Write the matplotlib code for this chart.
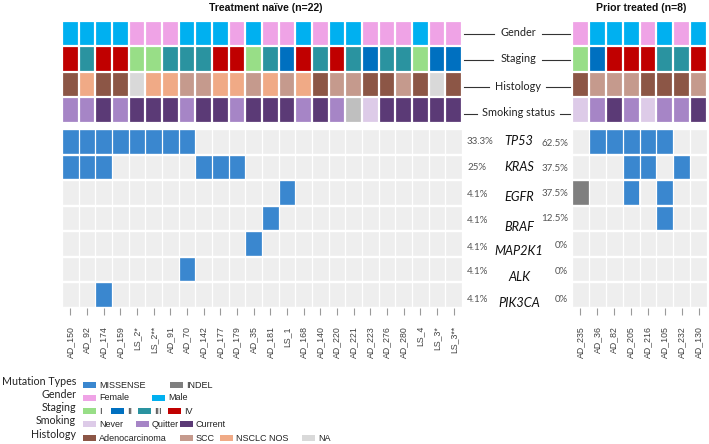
import numpy as np
import matplotlib
matplotlib.use("Agg")
import matplotlib.pyplot as plt
from matplotlib.colors import to_rgb
from matplotlib.patches import Rectangle
from matplotlib.lines import Line2D

W, H = 709, 444

# ---------------- data ----------------
left_samples = ["AD_150", "AD_92", "AD_174", "AD_159", "LS_2*", "LS_2**", "AD_91", "AD_70",
                "AD_142", "AD_177", "AD_179", "AD_35", "AD_181", "LS_1", "AD_168", "AD_140",
                "AD_220", "AD_221", "AD_223", "AD_276", "AD_280", "LS_4", "LS_3*", "LS_3**"]
right_samples = ["AD_235", "AD_36", "AD_82", "AD_205", "AD_216", "AD_105", "AD_232", "AD_130"]

genes = ["TP53", "KRAS", "EGFR", "BRAF", "MAP2K1", "ALK", "PIK3CA"]
left_pct = ["33.3%", "25%", "4.1%", "4.1%", "4.1%", "4.1%", "4.1%"]
right_pct = ["62.5%", "37.5%", "37.5%", "12.5%", "0%", "0%", "0%"]

left_gender = ["Male", "Male", "Male", "Male", "Female", "Female", "Female", "Male", "Male", "Male",
               "Female", "Male", "Female", "Female", "Male", "Female", "Male", "Male", "Female",
               "Female", "Female", "Male", "Female", "Female"]
left_staging = ["IV", "III", "IV", "IV", "I", "I", "III", "III", "III", "IV", "IV", "I", "III", "II",
                "IV", "III", "IV", "III", "II", "III", "III", "I", "II", "II"]
left_histology = ["Adenocarcinoma", "NSCLC NOS", "Adenocarcinoma", "Adenocarcinoma", "NA", "NSCLC NOS",
                  "NSCLC NOS", "SCC", "SCC", "NSCLC NOS", "NSCLC NOS", "SCC", "NSCLC NOS", "SCC",
                  "NSCLC NOS", "Adenocarcinoma", "SCC", "SCC", "Adenocarcinoma", "Adenocarcinoma",
                  "SCC", "Adenocarcinoma", "NA", "Adenocarcinoma"]
left_smoking = ["Quitter", "Quitter", "Current", "Quitter", "Current", "Current", "Current", "Quitter",
                "Current", "Current", "Quitter", "Current", "Current", "Current", "Quitter", "Current",
                "Quitter", "NA", "Never", "Current", "Current", "Current", "Current", "Current"]

right_gender = ["Female", "Male", "Male", "Male", "Female", "Male", "Female", "Male"]
right_staging = ["I", "II", "IV", "IV", "IV", "III", "III", "IV"]
right_histology = ["Adenocarcinoma", "SCC", "SCC", "SCC", "Adenocarcinoma", "Adenocarcinoma",
                   "Adenocarcinoma", "SCC"]
right_smoking = ["Never", "Quitter", "Current", "Quitter", "Never", "Quitter", "Quitter", "Current"]

# mutation calls: 0 = none, 1 = MISSENSE, 2 = INDEL
TP53_L   = [1, 1, 1, 1, 1, 1, 1, 1, 0, 0, 0, 0, 0, 0, 0, 0, 0, 0, 0, 0, 0, 0, 0, 0]
KRAS_L   = [1, 1, 1, 0, 0, 0, 0, 0, 1, 1, 1, 0, 0, 0, 0, 0, 0, 0, 0, 0, 0, 0, 0, 0]
EGFR_L   = [0, 0, 0, 0, 0, 0, 0, 0, 0, 0, 0, 0, 0, 1, 0, 0, 0, 0, 0, 0, 0, 0, 0, 0]
BRAF_L   = [0, 0, 0, 0, 0, 0, 0, 0, 0, 0, 0, 0, 1, 0, 0, 0, 0, 0, 0, 0, 0, 0, 0, 0]
MAP2K1_L = [0, 0, 0, 0, 0, 0, 0, 0, 0, 0, 0, 1, 0, 0, 0, 0, 0, 0, 0, 0, 0, 0, 0, 0]
ALK_L    = [0, 0, 0, 0, 0, 0, 0, 1, 0, 0, 0, 0, 0, 0, 0, 0, 0, 0, 0, 0, 0, 0, 0, 0]
PIK3CA_L = [0, 0, 1, 0, 0, 0, 0, 0, 0, 0, 0, 0, 0, 0, 0, 0, 0, 0, 0, 0, 0, 0, 0, 0]

TP53_R   = [0, 1, 1, 1, 1, 1, 0, 0]
KRAS_R   = [0, 0, 0, 1, 1, 0, 1, 0]
EGFR_R   = [2, 0, 0, 1, 0, 1, 0, 0]
BRAF_R   = [0, 0, 0, 0, 0, 1, 0, 0]
MAP2K1_R = [0, 0, 0, 0, 0, 0, 0, 0]
ALK_R    = [0, 0, 0, 0, 0, 0, 0, 0]
PIK3CA_R = [0, 0, 0, 0, 0, 0, 0, 0]

left_mut = [TP53_L, KRAS_L, EGFR_L, BRAF_L, MAP2K1_L, ALK_L, PIK3CA_L]
right_mut = [TP53_R, KRAS_R, EGFR_R, BRAF_R, MAP2K1_R, ALK_R, PIK3CA_R]

# ---------------- styles ----------------
gender_colors = {"Female": "#EFA3E6", "Male": "#00B0F0"}
staging_colors = {"I": "#98DE87", "II": "#0070C0", "III": "#2A93A0", "IV": "#C00000"}
smoking_colors = {"Never": "#DDCBE8", "Quitter": "#A685C6", "Current": "#5B3A76", "NA": "#BFBFBF"}
histology_colors = {"Adenocarcinoma": "#8C5646", "SCC": "#C59A8D", "NSCLC NOS": "#F0AA86", "NA": "#D9D9D9"}
mut_colors = {0: "#EEEEEE", 1: "#3A87CF", 2: "#7F7F7F"}
mut_names = {1: "MISSENSE", 2: "INDEL"}

LABEL_FONT = "Lato"
ARIAL = "Liberation Sans"

fig = plt.figure(figsize=(W / 100, H / 100), dpi=100)


def fx(x):
    return x / W


def fy(y):
    return 1 - y / H


def px_axes(x0, y0, x1, y1):
    return fig.add_axes([x0 / W, 1 - y1 / H, (x1 - x0) / W, (y1 - y0) / H])


def annotation_panel(x0, x1, rows):
    ax = px_axes(x0, 21, x1, 123)
    n = len(rows[0][0])
    rgb = np.array([[to_rgb(cmap[v]) for v in vals] for vals, cmap in rows])
    ax.imshow(rgb, aspect="auto", interpolation="nearest",
              extent=(-0.5, n - 0.5, len(rows) - 0.5, -0.5))
    ax.set_xticks(np.arange(-0.5, n, 1), minor=True)
    ax.set_yticks(np.arange(-0.5, len(rows), 1), minor=True)
    ax.grid(which="minor", color="white", linewidth=1.6)
    ax.set_axisbelow(False)
    ax.tick_params(which="both", length=0, labelbottom=False, labelleft=False)
    for s in ax.spines.values():
        s.set_visible(False)
    return ax


def mutation_panel(x0, x1, mut, samples):
    ax = px_axes(x0, 129, x1, 308)
    n = len(samples)
    rgb = np.array([[to_rgb(mut_colors[v]) for v in row] for row in mut])
    ax.imshow(rgb, aspect="auto", interpolation="nearest",
              extent=(-0.5, n - 0.5, len(mut) - 0.5, -0.5))
    ax.set_xticks(np.arange(-0.5, n, 1), minor=True)
    ax.set_yticks(np.arange(-0.5, len(mut), 1), minor=True)
    ax.xaxis.grid(True, which="minor", color="white", linewidth=0.9)
    ax.yaxis.grid(True, which="minor", color="white", linewidth=1.7)
    ax.set_axisbelow(False)
    ax.set_xticks(np.arange(n))
    ax.set_xticklabels(samples, rotation=90, fontsize=6.3, color="#404040",
                       family=ARIAL, va="top", ha="center")
    ax.tick_params(axis="x", which="major", length=5, width=0.8, color="#9A9A9A", pad=8)
    ax.tick_params(axis="x", which="minor", length=0)
    ax.tick_params(axis="y", which="both", length=0, labelleft=False)
    ax.set_yticks([])
    for s in ax.spines.values():
        s.set_visible(False)
    return ax


annotation_panel(62, 462, [(left_gender, gender_colors), (left_staging, staging_colors),
                           (left_histology, histology_colors), (left_smoking, smoking_colors)])
annotation_panel(572, 707, [(right_gender, gender_colors), (right_staging, staging_colors),
                            (right_histology, histology_colors), (right_smoking, smoking_colors)])
mutation_panel(62, 462, left_mut, left_samples)
mutation_panel(572, 707, right_mut, right_samples)

# titles
fig.text(fx(266), fy(8), "Treatment naïve (n=22)", ha="center", va="center",
         fontsize=7.6, fontweight="bold", family=ARIAL, color="#111111")
fig.text(fx(641), fy(8), "Prior treated (n=8)", ha="center", va="center",
         fontsize=7.6, fontweight="bold", family=ARIAL, color="#111111")

# annotation row labels with connector lines
row_labels = ["Gender", "Staging", "Histology", "Smoking status"]
row_label_y = [33, 59, 86, 113]
row_label_gaps = [(494, 542), (493, 542), (489, 546), (477, 560)]
for lab, y, (g0, g1) in zip(row_labels, row_label_y, row_label_gaps):
    fig.text(fx(518.5), fy(y), lab, ha="center", va="center", fontsize=7.8,
             family=LABEL_FONT, color="#222222")
    fig.add_artist(Line2D([fx(464), fx(g0)], [fy(y + 1), fy(y + 1)], color="#333333", lw=0.8))
    fig.add_artist(Line2D([fx(g1), fx(570)], [fy(y + 1), fy(y + 1)], color="#333333", lw=0.8))

# gene names and percentages
row_centers = [141, 167, 193, 220, 246, 272, 297]
gene_dy = [0, 0, 4, 7, 5, 5, 6]
lp_dy = [0, 0, 1, 0, 2, 0, 3]
rp_dy = [2, 1, 0, -2, -1, 0, 2]
for g, lp, rp, yc, d, dl, dr in zip(genes, left_pct, right_pct, row_centers, gene_dy, lp_dy, rp_dy):
    fig.text(fx(519), fy(yc + d), g, ha="center", va="center", fontsize=9.2,
             style="italic", family=LABEL_FONT, color="#111111")
    fig.text(fx(467), fy(yc + dl), lp, ha="left", va="center", fontsize=7,
             family=LABEL_FONT, color="#555555")
    fig.text(fx(568), fy(yc + dr), rp, ha="right", va="center", fontsize=7,
             family=LABEL_FONT, color="#555555")

# legend
legend_rows = [
    ("Mutation Types", 384.5, [(83, mut_names[1], mut_colors[1]), (170, mut_names[2], mut_colors[2])]),
    ("Gender", 397.5, [(83, "Female", gender_colors["Female"]), (152, "Male", gender_colors["Male"])]),
    ("Staging", 410.5, [(83, "I", staging_colors["I"]), (111, "II", staging_colors["II"]),
                        (138, "III", staging_colors["III"]), (168, "IV", staging_colors["IV"])]),
    ("Smoking", 423.5, [(83, "Never", smoking_colors["Never"]), (136, "Quitter", smoking_colors["Quitter"]),
                        (180, "Current", smoking_colors["Current"])]),
    ("Histology", 437.5, [(83, "Adenocarcinoma", histology_colors["Adenocarcinoma"]),
                          (180, "SCC", histology_colors["SCC"]),
                          (220, "NSCLC NOS", histology_colors["NSCLC NOS"]),
                          (302, "NA", histology_colors["NA"])]),
]
for title, yc, entries in legend_rows:
    fig.text(fx(76), fy(yc - 3), title, ha="right", va="center", fontsize=7.7,
             family=LABEL_FONT, color="#222222")
    for x, lab, col in entries:
        fig.add_artist(Rectangle((fx(x), fy(yc + 3)), 13 / W, 6 / H,
                                 transform=fig.transFigure, facecolor=col, edgecolor="none"))
        fig.text(fx(x + 16), fy(yc + 0.5), lab, ha="left", va="center", fontsize=6.5,
                 family=ARIAL, color="#222222")

fig.savefig("out.png", dpi=100)
